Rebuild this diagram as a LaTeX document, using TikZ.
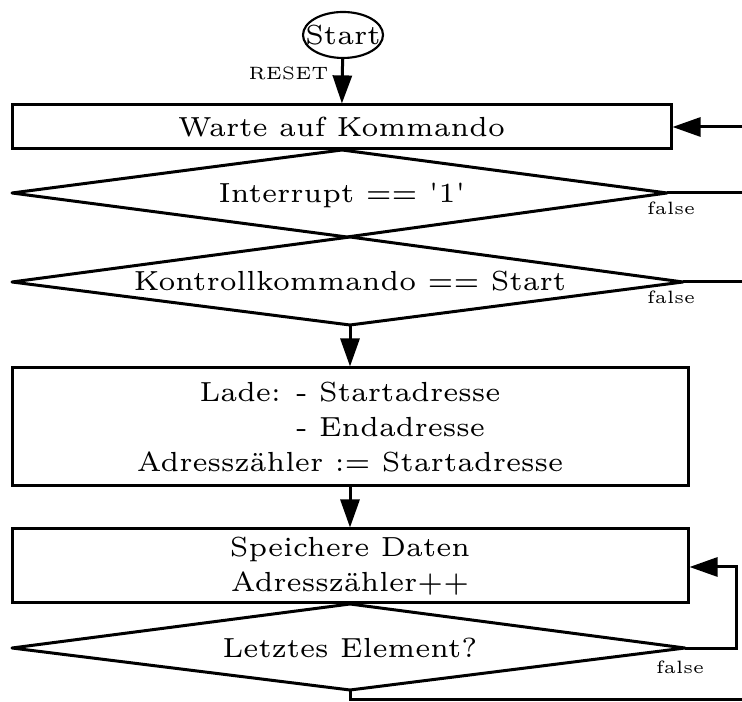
\documentclass[tikz,border=0pt]{standalone}
\usetikzlibrary{arrows.meta,shapes.geometric}
\newcommand\U{0.21}
\begin{document}
\begin{tikzpicture}[x=0.21pt, y=-0.21pt,
  line width=0.63pt,
  mainfont/.style={font=\fontsize{5.8}{7.35}\selectfont},
  smallfont/.style={font=\fontsize{3.75}{4.6}\selectfont},
  pbox/.style n args={2}{draw, rectangle, minimum width=#1*\U pt, minimum height=#2*\U pt, inner sep=0pt, mainfont, align=center},
  txt/.style={inner sep=0pt, mainfont},
  lbl/.style={inner sep=0pt, smallfont},
  arr/.style={-{Triangle[length=5.9pt,width=4pt]}},
  dia/.style={draw, line join=round}
]
\useasboundingbox (0,0) rectangle (742,702);

% Start
\node[draw, ellipse, line width=0.45pt, minimum width=80*\U pt, minimum height=46*\U pt, inner sep=-3pt, mainfont] (start) at (343,35) {Start};
\node[lbl, anchor=east] (reset) at (330,73) {RESET};

% box 1
\node[pbox={659}{44}] (b1) at (341.5,127) {Warte auf Kommando};
\draw[arr] (start) -- (b1);
\coordinate (in1) at (742,127);
\draw[arr] (in1) -- (b1.east |- in1);

% diamond 1
\coordinate (d1t) at (342,150);
\coordinate (d1r) at (667,193);
\coordinate (d1b) at (347,237);
\coordinate (d1l) at (12,193);
\draw[dia] (d1t) -- (d1r) -- (d1b) -- (d1l) -- cycle;
\node[txt] (d1) at (342,195) {Interrupt == \textquotesingle 1\textquotesingle};
\coordinate (o1) at (742,193);
\draw (d1r) -- (o1);
\node[lbl] (f1) at (671,208) {false};

% diamond 2
\coordinate (d2t) at (350,237);
\coordinate (d2r) at (683,282);
\coordinate (d2b) at (350,325);
\coordinate (d2l) at (12,282);
\draw[dia] (d2t) -- (d2r) -- (d2b) -- (d2l) -- cycle;
\node[txt] (d2) at (350,281) {Kontrollkommando == Start};
\coordinate (o2) at (742,282);
\draw (d2r) -- (o2);
\node[lbl] (f2) at (671,297) {false};

% box 3
\node[pbox={676}{118}] (b3) at (350,427) {Lade: - Startadresse\\
  \rlap{\hphantom{Lade: }- Endadresse}\hphantom{Lade: - Startadresse}\\
  Adressz\"ahler := Startadresse};
\draw[arr] (d2b) -- (b3);

% box 4
\node[pbox={676}{74}] (b4) at (350,566) {Speichere Daten\\Adressz\"ahler++};
\draw[arr] (b3) -- (b4);

% diamond 4
\coordinate (d4t) at (350,604);
\coordinate (d4r) at (685,648);
\coordinate (d4b) at (350,690);
\coordinate (d4l) at (12,648);
\draw[dia] (d4t) -- (d4r) -- (d4b) -- (d4l) -- cycle;
\node[txt] (d4) at (350,648) {Letztes Element?};
\coordinate (lp) at (736,567);
\draw[arr] (d4r) -| (lp) -- (b4.east |- lp);
\node[lbl] (f4) at (680,667) {false};
\coordinate (o4) at (742,699);
\draw (d4b) |- (o4);
\end{tikzpicture}
\end{document}
